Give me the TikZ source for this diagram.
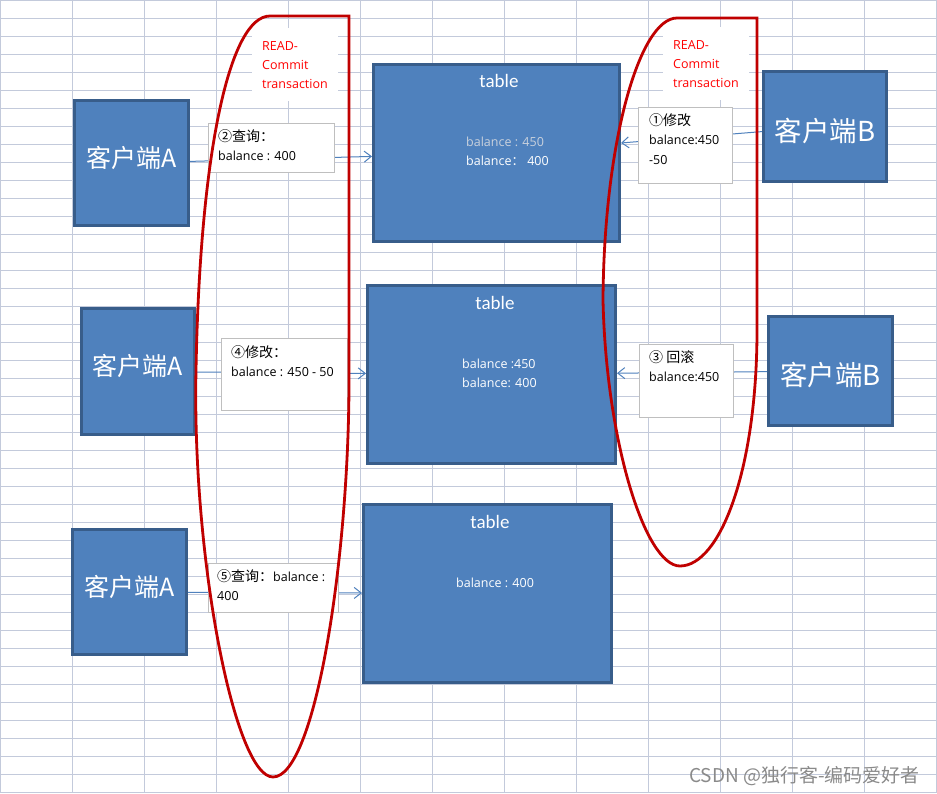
\documentclass[tikz,border=0pt]{standalone}
\usepackage{fontspec}
\setmainfont{Open Sans}
\newfontfamily\cjk{Noto Sans CJK SC}
\newfontfamily\calib{Carlito}
\newcommand{\stepcjk}{\cjk\fontsize{14}{19.5}\selectfont}
\usetikzlibrary{arrows.meta,positioning}
\definecolor{cellgrid}{HTML}{C3CADB}
\definecolor{boxblue}{HTML}{4F81BD}
\definecolor{boxedge}{HTML}{385D8A}
\definecolor{notegray}{HTML}{BFBFBF}
\definecolor{loopred}{HTML}{C00000}
\definecolor{fadedtext}{HTML}{C9D1DD}
\definecolor{marktext}{HTML}{8A8A8A}
\tikzset{
  client/.style={rectangle, draw=boxedge, line width=3pt, fill=boxblue, text=white, font=\cjk\fontsize{25}{30}\selectfont},
  clientA/.style={client, text depth=13pt},
  clientB/.style={client, text height=32pt, font=\cjk\fontsize{27.5}{32}\selectfont},
  tablebox/.style={rectangle, draw=boxedge, line width=3pt, fill=boxblue, minimum width=248pt, minimum height=178pt},
  tabtitle/.style={inner sep=0pt, anchor=north, text=white, font=\calib\fontsize{19}{23}\selectfont},
  tabtext/.style={inner sep=0pt, anchor=north west, align=left, text=white, font=\fontsize{12.5}{19}\selectfont},
  notebox/.style={rectangle, draw=notegray, line width=1pt, fill=white, anchor=north west},
  notetext/.style={inner sep=0pt, anchor=north west, align=left, font=\fontsize{12.5}{19.5}\selectfont},
  txnlabel/.style={fill=white, text=red, anchor=north west, align=left, inner xsep=10pt, inner ysep=13pt, font=\fontsize{12.5}{19}\selectfont},
  arrow/.style={-{Straight Barb[length=7pt,width=11pt]}, draw=boxblue, line width=1pt},
  txnloop/.style={draw=loopred, line width=2.8pt}
}
\begin{document}
\begin{tikzpicture}[x=1pt,y=-1pt]
  \useasboundingbox (0,0) rectangle (937,793);
  \fill[white] (0,0) rectangle (937,793);
  % sheet grid
  \foreach \gx in {0,...,13}
    \draw[cellgrid, line width=1pt] ({72*\gx+0.5},0) -- ({72*\gx+0.5},793);
  \foreach \gy in {0,...,44}
    \draw[cellgrid, line width=1pt] (0,{18*\gy+0.5}) -- (937,{18*\gy+0.5});

  % clients
  \node[clientA, minimum width=114pt, minimum height=125pt] (cliA1) at (131.5,163) {客户端A};
  \node[clientA, minimum width=113pt, minimum height=126pt] (cliA2) at (138,371.5) {客户端A};
  \node[clientA, minimum width=114pt, minimum height=125pt] (cliA3) at (129.5,592) {客户端A};
  \node[clientB, minimum width=123pt, minimum height=110pt] (cliB1) at (825,126.5) {客户端B};
  \node[clientB, minimum width=124pt, minimum height=109pt] (cliB2) at (830.5,371) {客户端B};

  % tables
  \node[tablebox, minimum width=246pt, minimum height=177pt] (tab1) at (496.5,153) {};
  \node[tabtitle] (tab1head) at (499,74) {table};
  \node[tabtext] (tab1val) at (466,137) {\textcolor{fadedtext}{balance : 450}\\balance{\cjk ：} 400};
  \node[tablebox] (tab2) at (491.5,374.5) {};
  \node[tabtitle] (tab2head) at (495,296) {table};
  \node[tabtext] (tab2val) at (462,359) {balance :450\\balance: 400};
  \node[tablebox] (tab3) at (487.5,593.5) {};
  \node[tabtitle] (tab3head) at (490,515) {table};
  \node[tabtext] (tab3val) at (456,578) {balance : 400};

  % transaction labels
  \node[txnlabel] (txnA) at (252,28) {READ-\\Commit\\transaction};
  \node[txnlabel] (txnB) at (663,27) {READ-\\Commit\\transaction};

  % requests
  \draw[arrow] (cliA1) -- (tab1);
  \draw[arrow] (cliB1) -- (tab1);
  \draw[arrow] (cliA2) -- (tab2);
  \draw[arrow] (cliB2) -- (tab2);
  \draw[arrow] (cliA3) -- (tab3);

  % step notes
  \node[notebox, minimum width=94pt, minimum height=76pt] (step1) at (638,107) {};
  \node[notetext] (step1txt) at ([xshift=11pt,yshift=-6pt]step1.north west) {{\stepcjk ①修改}\\balance:450\\-50};
  \node[notebox, minimum width=126pt, minimum height=49pt] (step2) at (208,123) {};
  \node[notetext] (step2txt) at ([xshift=10pt,yshift=-6pt]step2.north west) {{\stepcjk ②查询：}\\balance : 400};
  \node[notebox, minimum width=94pt, minimum height=73pt] (step3) at (639,344) {};
  \node[notetext] (step3txt) at ([xshift=10pt,yshift=-6pt]step3.north west) {{\stepcjk ③ 回滚}\\balance:450};
  \node[notebox, minimum width=126pt, minimum height=72pt] (step4) at (221,338) {};
  \node[notetext] (step4txt) at ([xshift=10pt,yshift=-7pt]step4.north west) {{\stepcjk ④修改：}\\balance : 450 - 50};
  \node[notebox, minimum width=130pt, minimum height=49pt] (step5) at (208,563) {};
  \node[notetext] (step5txt) at ([xshift=9pt,yshift=-6pt]step5.north west) {{\stepcjk ⑤查询：}balance :\\400};

  % transaction scopes
  \draw[txnloop] (349,16) -- (270,16) .. controls (230,16) and (200,150) .. (196,370)
    .. controls (192,560) and (235,777) .. (273,777)
    .. controls (315,777) and (349,560) .. (349,380) -- cycle;
  \draw[txnloop] (757,18) -- (677,18) .. controls (640,18) and (604,140) .. (603,300)
    .. controls (606,440) and (645,566) .. (680,566)
    .. controls (720,566) and (757,470) .. (757,330) -- cycle;

  \node[inner sep=0pt, anchor=base east, text=marktext, font=\cjk\fontsize{19}{22}\selectfont] (mark) at (920,782) {CSDN @独行客-编码爱好者};
\end{tikzpicture}
\end{document}
